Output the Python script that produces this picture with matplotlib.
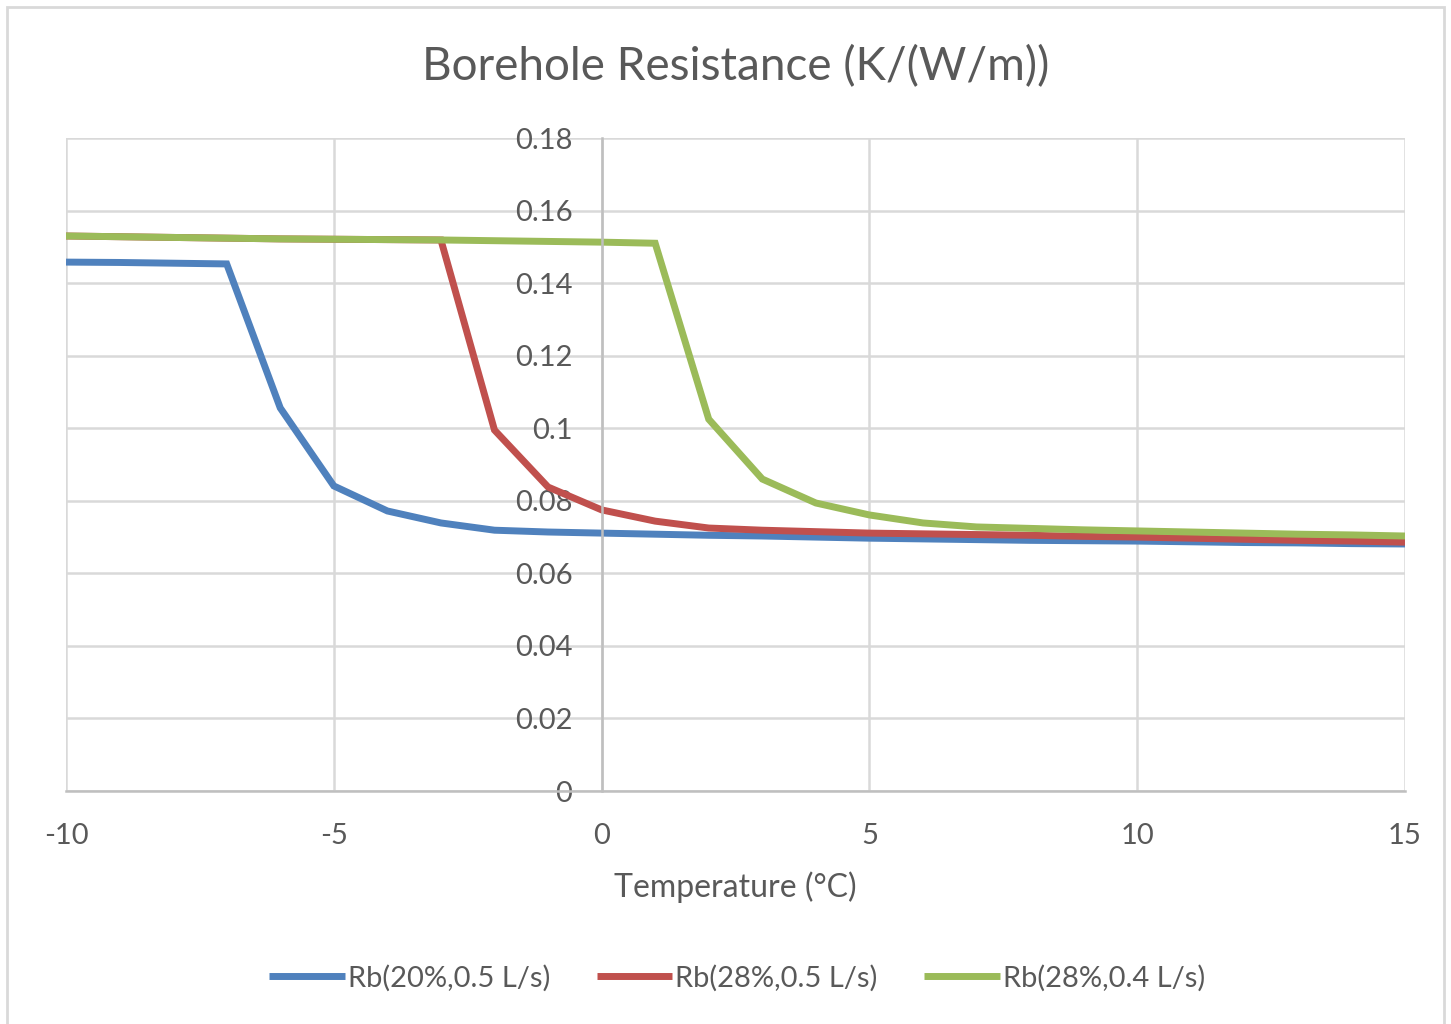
import matplotlib
matplotlib.use("Agg")
import matplotlib.pyplot as plt
from matplotlib.ticker import FuncFormatter, MultipleLocator
from matplotlib.patches import Rectangle

plt.rcParams['font.family'] = ['Lato', 'DejaVu Sans']
plt.rcParams['axes.unicode_minus'] = False

temps = [-10, -9, -8, -7, -6, -5, -4, -3, -2, -1, 0, 1, 2, 3, 4, 5, 6, 7, 8, 9, 10, 11, 12, 13, 14, 15]
rb_20_05 = [0.1458, 0.1457, 0.1455, 0.1453, 0.1056, 0.0841, 0.0772, 0.0739, 0.0719, 0.0714, 0.0711,
            0.0708, 0.0705, 0.0703, 0.0700, 0.0697, 0.0695, 0.0693, 0.0691, 0.0690, 0.0689,
            0.0687, 0.0685, 0.0684, 0.0682, 0.0681]
rb_28_05 = [0.1530, 0.1528, 0.1526, 0.1524, 0.1522, 0.1521, 0.1520, 0.1519, 0.0995, 0.0838, 0.0775,
            0.0744, 0.0725, 0.0719, 0.0715, 0.0711, 0.0709, 0.0707, 0.0705, 0.0702, 0.0700,
            0.0697, 0.0694, 0.0691, 0.0689, 0.0686]
rb_28_04 = [0.1530, 0.1528, 0.1526, 0.1524, 0.1522, 0.1521, 0.1520, 0.1519, 0.1517, 0.1515, 0.1513,
            0.1510, 0.1025, 0.0860, 0.0794, 0.0761, 0.0739, 0.0728, 0.0724, 0.0720, 0.0717,
            0.0714, 0.0711, 0.0708, 0.0706, 0.0703]
labels = ['Rb(20%,0.5 L/s)', 'Rb(28%,0.5 L/s)', 'Rb(28%,0.4 L/s)']
colors = ['#4F81BD', '#C0504D', '#9BBB59']

txt = '#595959'
fig = plt.figure(figsize=(14.51, 10.24), dpi=100)
fig.patches.append(Rectangle((0.005, -0.01), 0.99, 1.003, transform=fig.transFigure,
                             fill=False, edgecolor='#D9D9D9', linewidth=2))
ax = fig.add_axes([0.0455, 0.2275, 0.9228, 0.6377])

for y, lab, c in zip([rb_20_05, rb_28_05, rb_28_04], labels, colors):
    ax.plot(temps, y, color=c, lw=5, label=lab, solid_capstyle='butt', solid_joinstyle='miter')

ax.set_xlim(-10, 15)
ax.set_ylim(0, 0.18)
ax.xaxis.set_major_locator(MultipleLocator(5))
ax.yaxis.set_major_locator(MultipleLocator(0.02))
ax.yaxis.set_major_formatter(FuncFormatter(lambda v, p: ('%.2f' % v).rstrip('0').rstrip('.') if v else '0'))
ax.grid(True, color='#D9D9D9', lw=1.8)
ax.set_axisbelow(True)

for s in ['top', 'right']:
    ax.spines[s].set_visible(False)
ax.spines['left'].set_position(('data', 0))
ax.spines['left'].set_color('#BFBFBF')
ax.spines['left'].set_linewidth(1.8)
ax.spines['bottom'].set_color('#BFBFBF')
ax.spines['bottom'].set_linewidth(1.8)
ax.tick_params(axis='both', length=0, labelsize=21, labelcolor=txt)
ax.tick_params(axis='y', pad=21)
ax.tick_params(axis='x', pad=23)

ax.set_title('Borehole Resistance (K/(W/m))', fontsize=33, color=txt, pad=42)
ax.set_xlabel('Temperature (°C)', fontsize=23, color=txt, labelpad=16)

fig.legend(loc='center', bbox_to_anchor=(0.508, 0.045), ncol=3, frameon=False,
           fontsize=21, labelcolor=txt, handlelength=2.6, handletextpad=0.1, columnspacing=1.6)

fig.savefig('out.png', dpi=100, facecolor='white')
